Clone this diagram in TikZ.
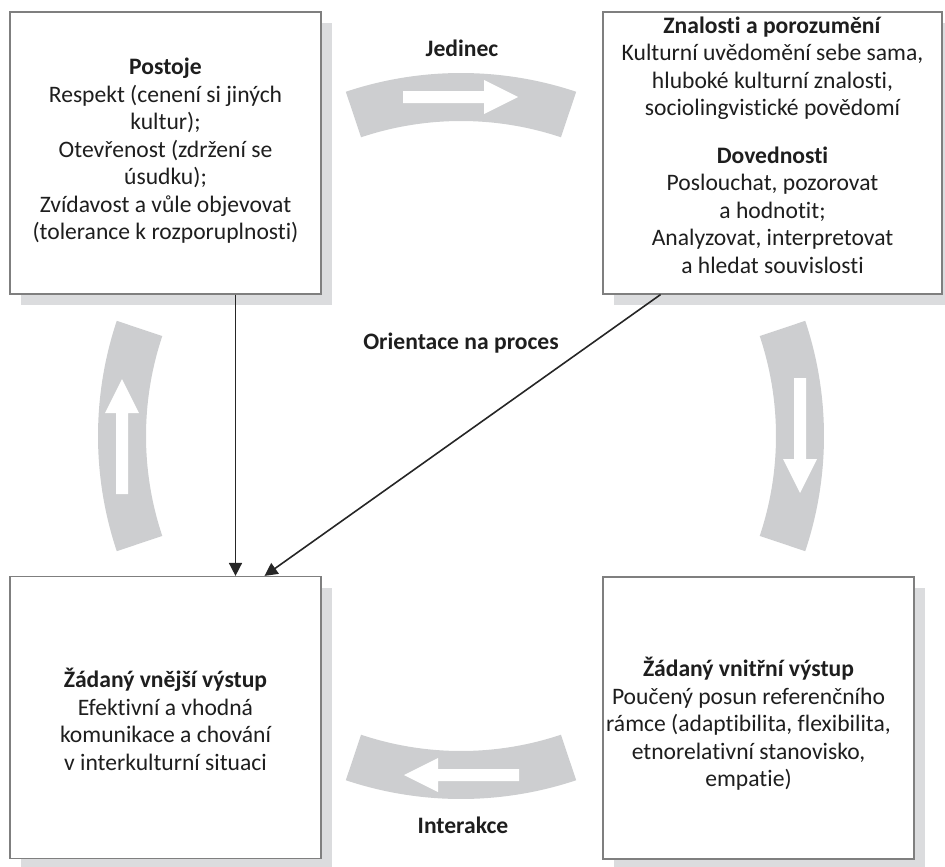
\documentclass[tikz,border=0pt]{standalone}
\usepackage{fontspec}
\setmainfont{Carlito}[Ligatures=NoCommon]
\usetikzlibrary{shadows,arrows.meta}
\definecolor{bandgray}{HTML}{CDCED0}
\definecolor{shadegray}{HTML}{DBDCDE}
\definecolor{framegray}{HTML}{7F7F7F}
\definecolor{linegray}{HTML}{262626}
\definecolor{inkgray}{HTML}{1E1E1E}

\begin{document}
\begin{tikzpicture}[
  x=1pt, y=-1pt,
  box/.style={rectangle, draw=framegray, line width=1.2pt, fill=white, inner sep=0pt,
    minimum width=311pt, minimum height=282pt,
    drop shadow={shadow xshift=11pt, shadow yshift=-11pt, fill=shadegray, opacity=1}},
  txt/.style={align=center, text=inkgray, font=\fontsize{23.6}{27.5}\selectfont},
  lbl/.style={text=inkgray, font=\fontsize{23.6}{27.5}\selectfont\bfseries},
  arw/.style={-{Triangle[length=13pt, width=13pt]}, draw=linegray, fill=linegray, line width=1.6pt}
  ]

\useasboundingbox (0,0) rectangle (945,867);

% curved bands round the middle
\begin{scope}[shift={(461,436)}, y=1pt]
\foreach \r in {0,-90,-180,-270}{
  \begin{scope}[rotate=\r]
    \fill[bandgray] (71.5:315) arc[start angle=71.5, end angle=108.5, radius=315pt]
      -- (108.5:363) arc[start angle=108.5, end angle=71.5, radius=363pt] -- cycle;
    \fill[white] (-58,333) -- (23,333) -- (23,322) -- (57,339) -- (23,356) -- (23,345) -- (-58,345) -- cycle;
  \end{scope}
}
\end{scope}

\node [box] (postoje) at (165.5,153) {};
\node [box, minimum width=339pt] (znalosti) at (772.5,153) {};
\node [box] (vnejsi) at (165.5,717.5) {};
\node [box] (vnitrni) at (758.5,718) {};

\node [txt, yshift=2pt] (postojetxt) at (postoje) {\textbf{Postoje}\\Respekt (cenení si jiných\\kultur);\\Otevřenost (zdržení se\\úsudku);\\Zvídavost a vůle objevovat\\(tolerance k rozporuplnosti)};
\node [txt, yshift=8pt] (znalostitxt) at (znalosti) {\textbf{Znalosti a porozumění}\\Kulturní uvědomění sebe sama,\\hluboké kulturní znalosti,\\sociolingvistické povědomí\\[20pt]\textbf{Dovednosti}\\Poslouchat, pozorovat\\a hodnotit;\\Analyzovat, interpretovat\\a hledat souvislosti};
\node [txt, yshift=-2pt] (vnejsitxt) at (vnejsi) {\textbf{Žádaný vnější výstup}\\Efektivní a vhodná\\komunikace a chování\\v interkulturní situaci};
\node [txt, xshift=-10pt, yshift=-6pt] (vnitrnitxt) at (vnitrni) {\textbf{Žádaný vnitřní výstup}\\Poučený posun referenčního\\rámce (adaptibilita, flexibilita,\\etnorelativní stanovisko,\\empatie)};

\node [lbl] (jedinec) at (462,48) {Jedinec};
\node [lbl] (orientace) at (461,343) {Orientace na proces};
\node [lbl] (interakce) at (463,825) {Interakce};

\draw [arw] ([xshift=70pt]postoje.south) -- ([xshift=70pt]postoje.south |- vnejsi.north);
\draw [arw] ([xshift=-112pt]znalosti.south) -- ([xshift=99pt]vnejsi.north);

\end{tikzpicture}
\end{document}
